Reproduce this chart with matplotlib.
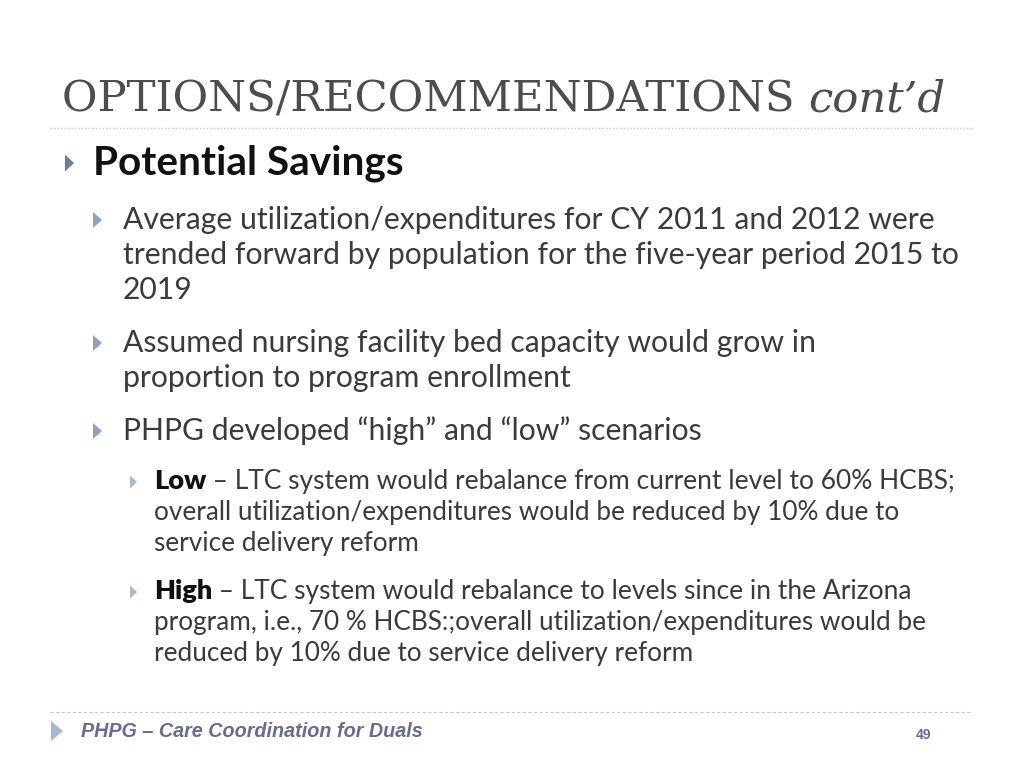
import matplotlib.pyplot as plt
from matplotlib.patches import Polygon

# slide content
title_main = "OPTIONS/RECOMMENDATIONS "
title_tail = "cont\u2019d"
heading = "Potential Savings"
level2_lines = [
    ["Average utilization/expenditures for CY 2011 and 2012 were",
     "trended forward by population for the five-year period 2015 to",
     "2019"],
    ["Assumed nursing facility bed capacity would grow in",
     "proportion to program enrollment"],
    ["PHPG developed \u201chigh\u201d and \u201clow\u201d scenarios"],
]
level3_bold = ["Low", "High"]
level3_lines = [
    ["\u2013 LTC system would rebalance from current level to 60% HCBS;",
     "overall utilization/expenditures would be reduced by 10% due to",
     "service delivery reform"],
    ["\u2013 LTC system would rebalance to levels since in the Arizona",
     "program, i.e., 70 % HCBS:;overall utilization/expenditures would be",
     "reduced by 10% due to service delivery reform"],
]
footer_text = "PHPG \u2013 Care Coordination for Duals"
page_no = "49"

# layout (pixels, y downwards)
l2_baselines = [[229, 264, 299], [352, 387], [440]]
l3_baselines = [[489, 520, 551], [599, 630, 661]]

body = "Lato"
text_col = "#3b3b3b"

fig = plt.figure(figsize=(10.24, 7.68), dpi=100)
ax = fig.add_axes([0, 0, 1, 1])
ax.set_xlim(0, 1024)
ax.set_ylim(768, 0)
ax.axis("off")


def tri(x, yc, w, h, color):
    ax.add_patch(Polygon([(x, yc - h / 2), (x, yc + h / 2), (x + w, yc)],
                         closed=True, color=color, lw=0))


# title
t = ax.text(62, 112, title_main, fontsize=31.2, family="DejaVu Serif",
            color="#4d4d4f", va="baseline")
ax.annotate(title_tail, xy=(1, 112), xycoords=(t, "data"), va="baseline",
            fontsize=31.2, family="DejaVu Serif", style="italic",
            color="#4d4d4f")
ax.plot([50, 972], [128, 128], ls=(0, (1, 1.5)), color="#c8c8c8", lw=1)

# heading
tri(65, 163, 9, 17, "#6f7c99")
ax.text(93, 175, heading, fontsize=29.2, family=body, weight="bold",
        color="#111111", va="baseline")

# level 2 bullets
for lines, bls in zip(level2_lines, l2_baselines):
    tri(93, bls[0] - 9, 9, 16, "#8fa3bf")
    for s, b in zip(lines, bls):
        ax.text(123, b, s, fontsize=21.7, family=body, color=text_col,
                va="baseline")

# level 3 bullets
for bold, lines, bls in zip(level3_bold, level3_lines, l3_baselines):
    tri(130, bls[0] - 7, 7, 13, "#b0b8c6")
    bt = ax.text(154, bls[0], bold, fontsize=19.5, family=body, weight="heavy",
                 color="#111111", va="baseline")
    ax.annotate(" " + lines[0], xy=(1, bls[0]), xycoords=(bt, "data"),
                va="baseline", fontsize=19, family=body, color=text_col)
    for s, b in zip(lines[1:], bls[1:]):
        ax.text(154, b, s, fontsize=18.8, family=body, color=text_col,
                va="baseline")

# footer
ax.plot([50, 972], [712, 712], ls=(0, (3, 2)), color="#c8c8c8", lw=0.8)
tri(51, 731, 12, 20, "#a8b8d0")
ax.text(81, 737, footer_text, fontsize=14.2, family="Liberation Sans",
        weight="bold", style="italic", color="#6a6a94", va="baseline")
ax.text(923, 735, page_no, fontsize=10, family="Liberation Sans",
        weight="bold", color="#6a6a94", va="center", ha="center")

fig.savefig("out.png", dpi=100, facecolor="white")
